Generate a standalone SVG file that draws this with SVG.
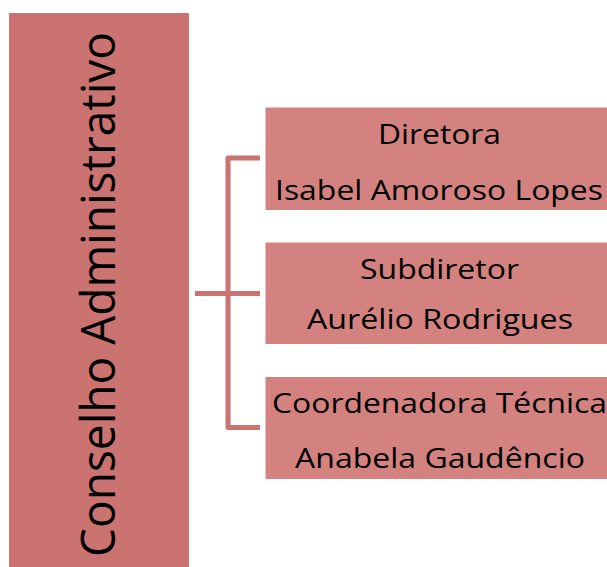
<svg xmlns="http://www.w3.org/2000/svg" width="607" height="567" viewBox="0 0 607 567">
<style>
.main{fill:#CB7371}
.box{fill:#D3827F}
.t{font-family:"Open Sans","Liberation Sans",sans-serif;fill:#000;text-anchor:middle}
.bt{font-size:28px}
.vt{font-size:47px}
.conn{fill:none;stroke:#CB7371;stroke-width:5;stroke-linejoin:round}
</style>
<rect width="607" height="567" fill="#fff"/>
<g id="conselho">
<rect class="main" x="9" y="13" width="180" height="554"/>
<text class="t vt" transform="translate(115,294.5) rotate(-90)" textLength="525" lengthAdjust="spacingAndGlyphs">Conselho Administrativo</text>
</g>
<g id="connectors">
<path class="conn" d="M260,158 H228 V427.5 H260"/>
<path class="conn" d="M195,293.5 H260"/>
</g>
<g id="diretora">
<rect class="box" x="265.5" y="107.5" width="350" height="102.5"/>
<text class="t bt" x="439.5" y="144" textLength="123" lengthAdjust="spacingAndGlyphs">Diretora</text>
<text class="t bt" x="439" y="200" textLength="328" lengthAdjust="spacingAndGlyphs">Isabel Amoroso Lopes</text>
</g>
<g id="subdiretor">
<rect class="box" x="265.5" y="242.5" width="350" height="101.5"/>
<text class="t bt" x="439.5" y="279" textLength="159" lengthAdjust="spacingAndGlyphs">Subdiretor</text>
<text class="t bt" x="440" y="329" textLength="266" lengthAdjust="spacingAndGlyphs">Aurélio Rodrigues</text>
</g>
<g id="coordenadora">
<rect class="box" x="265.5" y="377" width="350" height="102"/>
<text class="t bt" x="439.5" y="413" textLength="335" lengthAdjust="spacingAndGlyphs">Coordenadora Técnica</text>
<text class="t bt" x="440" y="468" textLength="290" lengthAdjust="spacingAndGlyphs">Anabela Gaudêncio</text>
</g>
</svg>
